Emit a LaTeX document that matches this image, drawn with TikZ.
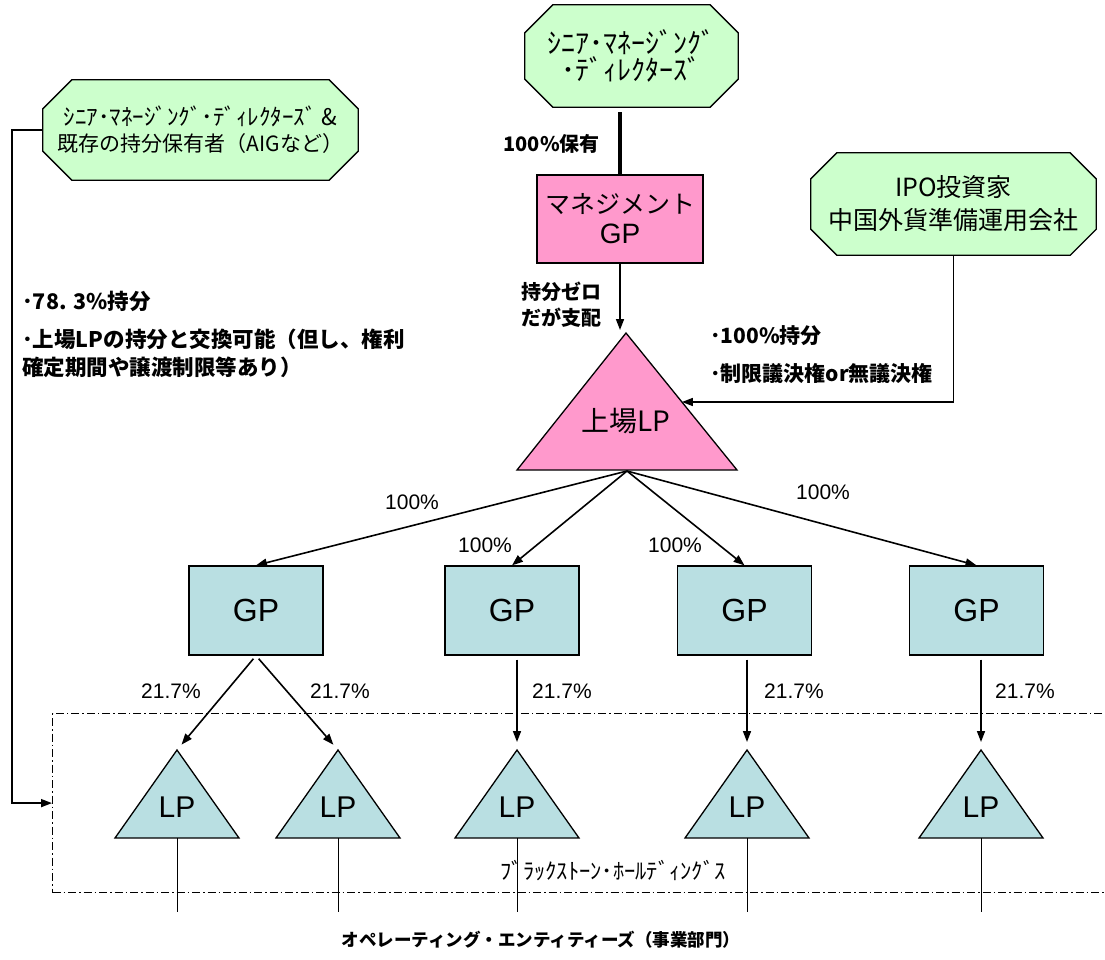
\documentclass[tikz,border=0pt]{standalone}
\usepackage{fontspec}
\setmainfont{Noto Sans CJK JP}
\newfontfamily\arial{Liberation Sans}
\usetikzlibrary{arrows.meta,calc,backgrounds}
\definecolor{pinkf}{HTML}{FF99CC}
\definecolor{greenf}{HTML}{CCFFCC}
\definecolor{tealf}{HTML}{B9DFE2}
\newcommand\fs[2]{\fontsize{#1}{#2}\selectfont}
\newcommand\myocta[2]{%
  \begin{pgfonlayer}{background}
  \draw[octline] ([xshift=#2]#1.north west) -- ([xshift=-#2]#1.north east) -- ([yshift=-#2]#1.north east) -- ([yshift=#2]#1.south east) -- ([xshift=-#2]#1.south east) -- ([xshift=#2]#1.south west) -- ([yshift=#2]#1.south west) -- ([yshift=-#2]#1.north west) -- cycle;
  \end{pgfonlayer}}
\begin{document}
\begin{tikzpicture}[x=1pt,y=-1pt,
  octline/.style={draw=black, line width=1.3pt, fill=greenf},
  octnode/.style={inner sep=0pt, align=center},
  boxline/.style={draw=black, line width=1.3pt, inner sep=0pt},
  gpbox/.style={boxline, fill=tealf, minimum width=134pt, minimum height=89pt, font=\arial\fs{32}{32}},
  tri/.style={draw=black, line width=1.3pt, line join=miter},
  arr/.style={line width=1.6pt, -{Triangle[length=11pt,width=8pt]}},
  stem/.style={line width=0.8pt},
  pct/.style={inner sep=0pt, font=\arial\fs{21}{21}},
  lbl/.style={inner sep=0pt, font=\bfseries\fs{20}{26}, align=left},
  lpl/.style={inner sep=0pt, font=\arial\fs{30}{30}},
  dashbox/.style={draw=black, line width=1.2pt, dash pattern=on 8pt off 3pt on 1.5pt off 3pt}
]
\useasboundingbox (0,0) rectangle (1105,959);

% dashed holdings box
\node[dashbox, minimum width=1063pt, minimum height=179pt, anchor=north west, inner sep=0pt] (hold) at (52,713) {};

% octagons
\node[octnode, minimum width=213pt, minimum height=102pt, font=\fs{28}{27}] (top) at (631.5,56) {ｼﾆｱ･ﾏﾈｰｼﾞﾝｸﾞ\\･ﾃﾞｨﾚｸﾀｰｽﾞ};
\myocta{top}{28pt}
\node[octnode, minimum width=315pt, minimum height=100pt, font=\fs{21}{26}] (left) at (200.5,130) {{\fs{23}{26}ｼﾆｱ･ﾏﾈｰｼﾞﾝｸﾞ･ﾃﾞｨﾚｸﾀｰｽﾞ \&}\\既存の持分保有者（AIGなど）};
\myocta{left}{29pt}
\node[octnode, minimum width=285pt, minimum height=102pt, font=\fs{25}{33}] (ipo) at (953.5,204) {IPO投資家\\中国外貨準備運用会社};
\myocta{ipo}{26pt}

% management GP
\node[boxline, fill=pinkf, minimum width=166pt, minimum height=88pt, align=center, font=\fs{25}{30}] (mgmt) at (620,219) {マネジメント\\{\arial\fs{28}{30}GP}};
\draw[line width=4.5pt, shorten >=5pt] (mgmt.north) -- (mgmt.north |- top.south);
\node[lbl, anchor=east] at (600,144) {100\%保有};

% big triangle
\coordinate (big) at (626,333);
\coordinate (bigL) at (517,470);
\coordinate (bigR) at (737,470);
\coordinate (bigbase) at (627,471);
\draw[tri, fill=pinkf] (big) -- (bigL) -- (bigR) -- cycle;
\node[inner sep=0pt, font=\fs{28}{28}] (biglbl) at (626,421) {上場LP};

\draw[arr, shorten >=3pt] (mgmt.south) -- (mgmt.south |- big);
\node[lbl, anchor=west] at (521,305) {持分ゼロ\\だが支配};

% IPO connector
\coordinate (ipoend) at ($(big)!0.5036!(bigR)$);
\draw[arr] (ipo.south) |- (ipoend);
\node[lbl, anchor=west, font=\bfseries\fs{21}{26}] at (710,336) {･100\%持分};
\node[lbl, anchor=west, font=\bfseries\fs{21}{26}] at (710,373) {･制限議決権or無議決権};

% left connector
\draw[arr] (left.west) -- ++(-31,0) |- (hold.west);
\node[lbl, anchor=west, font=\bfseries\fs{21.5}{28}] at (22,301) {･78. 3\%持分};
\node[lbl, anchor=west, font=\bfseries\fs{21.5}{28}] at (22,353) {･上場LPの持分と交換可能（但し、権利\\確定期間や譲渡制限等あり）};

% GP boxes
\node[gpbox] (gp1) at (256,610.5) {GP};
\node[gpbox] (gp2) at (512,610.5) {GP};
\node[gpbox] (gp3) at (744.5,610.5) {GP};
\node[gpbox] (gp4) at (976.5,610.5) {GP};

\draw[arr] (bigbase) -- (gp1.north);
\draw[arr] (bigbase) -- (gp2.north);
\draw[arr] (bigbase) -- (gp3.north);
\draw[arr] (bigbase) -- (gp4.north);
\node[pct] at (412,502) {100\%};
\node[pct] at (485,545) {100\%};
\node[pct] at (675,545) {100\%};
\node[pct] at (823,492) {100\%};

% LP triangles
\foreach \n/\x in {lp1/177, lp2/338, lp3/517, lp4/747, lp5/981}{
  \coordinate (\n) at (\x,750);
  \draw[tri, fill=tealf] (\n) -- ++(-62,88) -- ++(124,0) -- cycle;
  \node[lpl] (\n lbl) at ($(\n)+(0,57)$) {LP};
  \draw[stem] ($(\n)+(0,88)$) -- ++(0,74);
}

\draw[arr, shorten <=4pt, shorten >=7pt] (gp1.south) -- (lp1);
\draw[arr, shorten <=4pt, shorten >=7pt] (gp1.south) -- (lp2);
\draw[arr, shorten <=4pt, shorten >=8pt] (lp3 |- gp2.south) -- (lp3);
\draw[arr, shorten <=4pt, shorten >=8pt] (lp4 |- gp3.south) -- (lp4);
\draw[arr, shorten <=4pt, shorten >=8pt] (lp5 |- gp4.south) -- (lp5);
\node[pct] at (171,691) {21.7\%};
\node[pct] at (340,691) {21.7\%};
\node[pct] at (562,691) {21.7\%};
\node[pct] at (794,691) {21.7\%};
\node[pct] at (1025,691) {21.7\%};

\node[inner sep=0pt, font=\fs{22.5}{22}] (bxlbl) at (613,871) {ﾌﾞﾗｯｸｽﾄｰﾝ･ﾎｰﾙﾃﾞｨﾝｸﾞｽ};
\node[inner sep=0pt, font=\bfseries\fs{17.5}{18}] (oplbl) at (541,940) {オペレーティング・エンティティーズ（事業部門）};
\end{tikzpicture}
\end{document}
